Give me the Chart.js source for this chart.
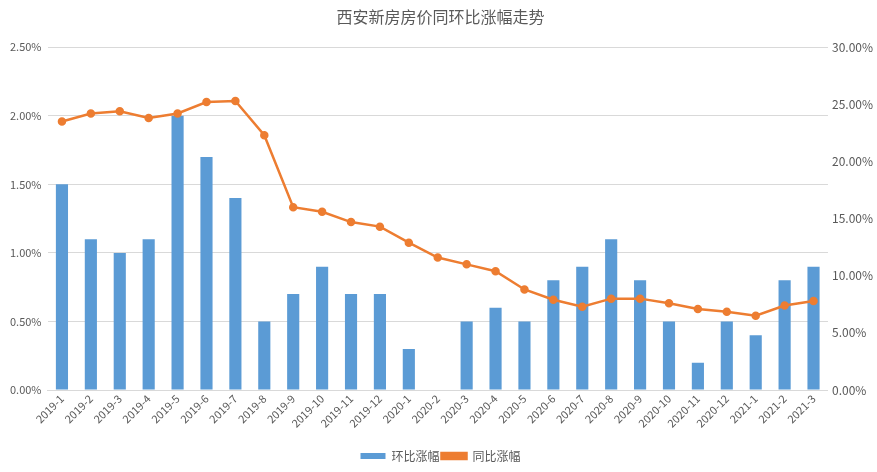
<!DOCTYPE html>
<html>
<head>
<meta charset="utf-8">
<script src="https://cdn.jsdelivr.net/npm/chart.js@4/dist/chart.umd.min.js"></script>
<style>
  body { margin: 0; background: #fff; }
  #wrap { width: 877px; height: 472px; }
</style>
</head>
<body>
<div id="wrap"><canvas id="mychart"></canvas></div>
<script>
var months = ["2019-1","2019-2","2019-3","2019-4","2019-5","2019-6","2019-7","2019-8","2019-9","2019-10","2019-11","2019-12",
              "2020-1","2020-2","2020-3","2020-4","2020-5","2020-6","2020-7","2020-8","2020-9","2020-10","2020-11","2020-12",
              "2021-1","2021-2","2021-3"]
// 环比涨幅 (%)
var momChange = [1.5,1.1,1.0,1.1,2.0,1.7,1.4,0.5,0.7,0.9,0.7,0.7,
                 0.3,0,0.5,0.6,0.5,0.8,0.9,1.1,0.8,0.5,0.2,0.5,
                 0.4,0.8,0.9]
// 同比涨幅 (%)
var yoyChange = [23.5,24.2,24.4,23.8,24.2,25.2,25.3,22.3,16.0,15.6,14.7,14.3,
                 12.9,11.6,11.0,10.4,8.8,7.9,7.3,8.0,8.0,7.6,7.1,6.85,
                 6.5,7.4,7.8]

var textColor = "#595959"
var font = "'Noto Sans CJK SC', 'Liberation Sans', sans-serif"

var ctx = document.getElementById("mychart").getContext("2d")
var chart = new Chart(ctx, {
    data: {
        labels: months,
        datasets: [
            {
                type: "bar",
                label: "环比涨幅",
                data: momChange,
                backgroundColor: "#5b9bd5",
                yAxisID: "y",
                barPercentage: 0.42,
                categoryPercentage: 1,
                order: 2
            },
            {
                type: "line",
                label: "同比涨幅",
                data: yoyChange,
                borderColor: "#ed7d31",
                backgroundColor: "#ed7d31",
                borderWidth: 2.5,
                pointRadius: 3,
                pointBackgroundColor: "#ed7d31",
                pointBorderColor: "#ed7d31",
                tension: 0,
                yAxisID: "y1",
                order: 1
            }
        ]
    },
    options: {
        responsive: true,
        maintainAspectRatio: false,
        animation: false,
        layout: { padding: { left: 4, right: 0, top: 2, bottom: 0 } },
        plugins: {
            title: {
                display: true,
                text: "西安新房房价同环比涨幅走势",
                color: textColor,
                font: { family: font, size: 16, weight: "normal" },
                padding: { top: 5, bottom: 21 }
            },
            legend: {
                position: "bottom",
                labels: {
                    color: textColor,
                    font: { family: font, size: 12 },
                    boxWidth: 25,
                    boxHeight: 6,
                    padding: 2,
                    sort: function(a, b){ return a.datasetIndex - b.datasetIndex }
                }
            },
            tooltip: { enabled: false }
        },
        scales: {
            x: {
                grid: { display: false, drawTicks: false },
                border: { color: "#d9d9d9" },
                afterFit: function(scale){ scale.height += 16 },
                ticks: {
                    color: textColor,
                    font: { family: font, size: 11 },
                    maxRotation: 45,
                    minRotation: 45,
                    autoSkip: false,
                    padding: 2
                }
            },
            y: {
                position: "left",
                min: 0,
                max: 2.5,
                grid: { color: "#d9d9d9", drawTicks: false },
                border: { display: false },
                ticks: {
                    stepSize: 0.5,
                    color: textColor,
                    font: { family: font, size: 11 },
                    padding: 6,
                    callback: function(v){ return v.toFixed(2) + "%" }
                }
            },
            y1: {
                position: "right",
                min: 0,
                max: 30,
                grid: { drawOnChartArea: false, drawTicks: false },
                border: { display: false },
                ticks: {
                    stepSize: 5,
                    color: textColor,
                    font: { family: font, size: 12 },
                    padding: 4,
                    callback: function(v){ return v.toFixed(2) + "%" }
                }
            }
        }
    }
})
</script>
</body>
</html>
